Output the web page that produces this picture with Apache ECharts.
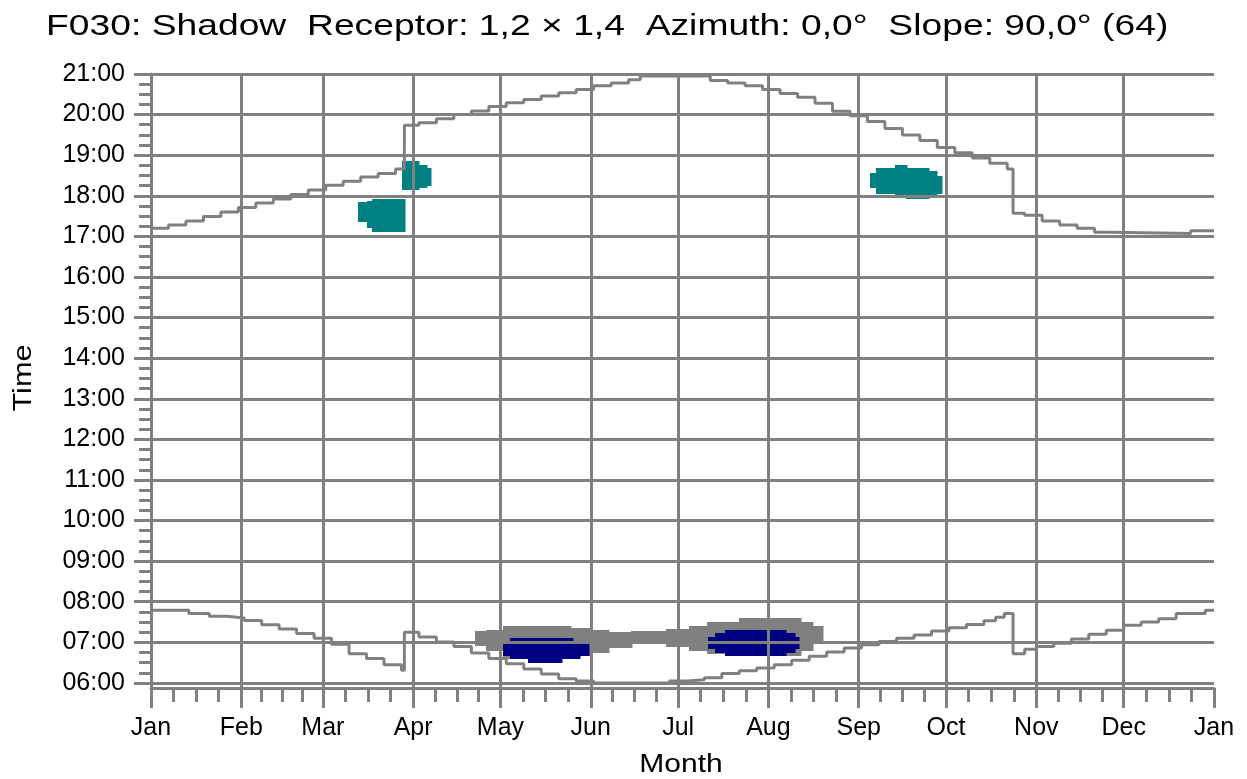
<!DOCTYPE html>
<html><head><meta charset="utf-8">
<script src="https://cdn.jsdelivr.net/npm/echarts@6/dist/echarts.min.js"></script>
<style>html,body{margin:0;padding:0;background:#fff}#c{width:1247px;height:779px}</style>
</head><body><div id="c"></div>
<script>
// ---- data ----
const titleText = 'F030: Shadow  Receptor: 1,2 \u00d7 1,4  Azimuth: 0,0\u00b0  Slope: 90,0\u00b0 (64)';
const monthStarts = [0, 31, 59, 90, 120, 151, 181, 212, 243, 273, 304, 334, 365];
const monthLabels = ['Jan', 'Feb', 'Mar', 'Apr', 'May', 'Jun', 'Jul', 'Aug', 'Sep', 'Oct', 'Nov', 'Dec', 'Jan'];
const hourTicks = [6, 7, 8, 9, 10, 11, 12, 13, 14, 15, 16, 17, 18, 19, 20, 21];

// sunset curve [day of year, hour]
const sunset = [[0,17.20],[6,17.28],[12,17.38],[18,17.49],[24,17.60],[30,17.71],[36,17.82],[42,17.92],[48,18.03],[54,18.14],[60,18.26],[66,18.36],[72,18.46],[78,18.55],[84,18.66],[87,19.74],[92,19.80],[98,19.90],[104,20.00],[110,20.09],[116,20.20],[122,20.29],[128,20.37],[134,20.46],[140,20.54],[146,20.62],[152,20.71],[158,20.78],[164,20.86],[168,20.95],[192,20.84],[198,20.78],[204,20.71],[210,20.62],[216,20.52],[222,20.43],[228,20.28],[234,20.08],[240,19.97],[246,19.83],[252,19.66],[258,19.50],[264,19.36],[270,19.19],[276,19.06],[282,18.93],[288,18.80],[294,18.66],[296,17.57],[300,17.52],[306,17.38],[312,17.28],[318,17.20],[324,17.10],[330,17.07],[357,17.14],[365,17.14]];

// sunrise curve [day of year, hour]
const sunrise = [[0,7.79],[13,7.71],[20,7.64],[26,7.60],[32,7.54],[38,7.43],[44,7.33],[50,7.22],[56,7.10],[62,6.95],[68,6.72],[74,6.60],[80,6.45],[86,6.31],[87,7.25],[92,7.13],[98,7.01],[104,6.90],[110,6.74],[116,6.60],[122,6.47],[128,6.34],[134,6.22],[140,6.10],[146,6.05],[152,6.00],[178,6.05],[184,6.08],[190,6.13],[196,6.23],[202,6.30],[208,6.37],[214,6.45],[220,6.56],[226,6.66],[232,6.76],[238,6.86],[244,6.94],[250,7.02],[256,7.10],[262,7.18],[268,7.28],[274,7.36],[280,7.44],[286,7.53],[290,7.62],[293,7.71],[296,6.72],[300,6.83],[304,6.90],[310,6.98],[316,7.08],[322,7.20],[328,7.30],[334,7.42],[340,7.50],[346,7.58],[352,7.71],[362,7.79],[365,7.79]];

// shadow blocks [day from, day to, hour from, hour to]
const grayShadow = [[111.3,115.3,6.93,7.26],[115.3,121,6.80,7.30],[121,144,6.60,7.40],[144,151,6.68,7.35],[151,157,6.75,7.28],[157,165,6.88,7.25],[165,177,7.01,7.26],[177,185,6.89,7.32],[185,191,6.81,7.40],[191,202,6.72,7.50],[202,223,6.68,7.59],[223,227,6.81,7.50],[227,230.5,6.97,7.40]];
const navyShadow = [[121,123.3,6.68,6.98],[123.3,129.5,6.61,7.10],[129.5,141,6.51,7.10],[141,144.6,6.61,7.10],[144.6,147.3,6.61,6.98],[147.3,150.1,6.68,6.98],[191.3,193.9,6.85,7.12],[193.9,197.3,6.76,7.22],[197.3,217.9,6.68,7.28],[217.9,220.8,6.76,7.22],[220.8,222.5,6.85,7.12]];
const tealShadow = [[71.4,74.2,17.37,17.84],[74.2,76,17.23,17.87],[76,87.2,17.13,17.92],[86.4,91.7,18.16,18.84],[91.7,94.7,18.21,18.74],[94.7,96,18.26,18.66],[246.9,249.2,18.20,18.55],[249.2,255.5,18.05,18.68],[255.5,259.5,17.95,18.75],[259.5,267,17.93,18.68],[267,269.8,18.02,18.60],[269.8,271.5,18.06,18.47]];

// ---- chart ----
const GRAY = '#808080';
const quarterTicks = [];
for (let i = 0; i < 12; i++) {
  const a = monthStarts[i], b = monthStarts[i + 1];
  for (let k = 1; k < 4; k++) quarterTicks.push(a + (b - a) * k / 4);
}
const quarterHourTicks = [];
for (let i = 0; i < hourTicks.length - 1; i++) {
  for (let k = 1; k < 4; k++) quarterHourTicks.push(hourTicks[i] + k / 4);
}
const FONT = '"Liberation Sans", Arial, sans-serif';
const lineSt = { color: GRAY, width: 3 };

function blockSeries(data, color) {
  return {
    type: 'custom', data: data, z: 2,
    encode: { x: [0, 1], y: [2, 3] },
    renderItem: function (params, api) {
      const p0 = api.coord([api.value(0), api.value(3)]);
      const p1 = api.coord([api.value(1), api.value(2)]);
      const x0 = Math.floor(p0[0]), x1 = Math.ceil(p1[0]);
      const y0 = Math.floor(p0[1]), y1 = Math.ceil(p1[1]);
      return { type: 'rect', shape: { x: x0, y: y0, width: x1 - x0 + 0.5, height: y1 - y0 }, style: { fill: color, stroke: null } };
    }
  };
}

const chart = echarts.init(document.getElementById('c'), null, { renderer: 'canvas' });
chart.setOption({
  animation: false,
  backgroundColor: '#fff',
  grid: { left: 151, right: 33, top: 74, bottom: 91, containLabel: false, outerBoundsMode: 'none' },
  xAxis: [{
    type: 'value', min: 0, max: 365, position: 'bottom', z: 10,
    axisLine: { show: true, onZero: false, lineStyle: lineSt },
    axisTick: { show: true, customValues: monthStarts.slice(0, 12), length: 20, lineStyle: lineSt },
    axisLabel: { customValues: monthStarts, color: '#000', fontSize: 25, fontFamily: FONT, margin: 28,
      formatter: function (v) { return monthLabels[monthStarts.indexOf(Math.round(v))]; } },
    splitLine: { show: true, lineStyle: lineSt }
  }, {
    type: 'value', min: 0, max: 365, position: 'bottom', z: 10,
    axisLine: { show: false, onZero: false },
    axisTick: { show: true, customValues: quarterTicks, length: 14, lineStyle: lineSt },
    axisLabel: { show: false }, splitLine: { show: false }
  }, {
    type: 'value', min: 0, max: 365, position: 'bottom', z: 10,
    axisLine: { show: false, onZero: false },
    axisTick: { show: true, customValues: [365], length: 20, lineStyle: lineSt },
    axisLabel: { show: false }, splitLine: { show: false }
  }],
  yAxis: [{
    type: 'value', min: 5.875, max: 21, position: 'left', z: 10,
    axisLine: { show: true, onZero: false, lineStyle: lineSt },
    axisTick: { show: true, customValues: hourTicks, length: 17, lineStyle: lineSt },
    axisLabel: { customValues: hourTicks, color: '#000', fontSize: 25, fontFamily: FONT, margin: 26,
      formatter: function (v) { const h = Math.round(v); return (h < 10 ? '0' : '') + h + ':00'; } },
    splitLine: { show: true, lineStyle: lineSt }
  }, {
    type: 'value', min: 5.875, max: 21, position: 'left', z: 10,
    axisLine: { show: false, onZero: false },
    axisTick: { show: true, customValues: quarterHourTicks, length: 12, lineStyle: lineSt },
    axisLabel: { show: false }, splitLine: { show: false }
  }],
  series: [
    blockSeries(grayShadow, GRAY),
    blockSeries(navyShadow, '#000080'),
    blockSeries(tealShadow, '#008080'),
    { type: 'line', data: sunset, step: 'end', symbol: 'none', lineStyle: { color: GRAY, width: 3 }, z: 3 },
    { type: 'line', data: sunrise, step: 'end', symbol: 'none', lineStyle: { color: GRAY, width: 3 }, z: 3 }
  ],
  graphic: [
    { type: 'text', x: 46, y: 27, scaleX: 1.38, scaleY: 1.06, style: { text: titleText, font: '27px ' + FONT, fill: '#000', align: 'left', verticalAlign: 'middle', textAlign: 'left', textVerticalAlign: 'middle' } },
    { type: 'text', x: 681, y: 765, scaleX: 1.2, style: { text: 'Month', font: '25px ' + FONT, fill: '#000', align: 'center', verticalAlign: 'middle', textAlign: 'center', textVerticalAlign: 'middle' } },
    { type: 'text', x: 24, y: 378, rotation: Math.PI / 2, scaleX: 1.23, style: { text: 'Time', font: '25px ' + FONT, fill: '#000', align: 'center', verticalAlign: 'middle', textAlign: 'center', textVerticalAlign: 'middle' } }
  ]
});
</script>
</body></html>
